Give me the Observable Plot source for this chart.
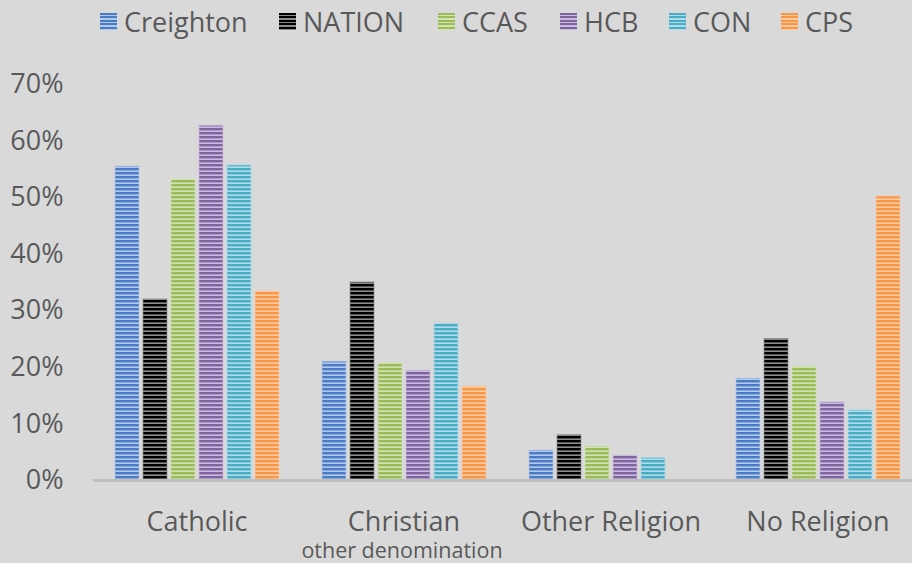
<!DOCTYPE html>
<html><head><meta charset="utf-8">
<script src="https://cdn.jsdelivr.net/npm/d3@7"></script>
<script src="https://cdn.jsdelivr.net/npm/@observablehq/plot@0.6"></script>
<style>
html,body{margin:0;padding:0;background:#d9d9d9;}
body{width:912px;height:563px;overflow:hidden;font-family:"Open Sans",sans-serif;}
#legend{height:40px;position:relative;}
.item{position:absolute;top:8px;display:flex;align-items:center;font-size:27px;color:#595959;line-height:1;}
.sw{width:17px;height:17px;margin-right:7px;}
#chart svg{display:block;}
</style></head><body>
<svg width="0" height="0" style="position:absolute"><defs id="defs"></defs></svg>
<div id="legend"></div>
<div id="chart"></div>
<script>
const categories = ["Catholic", "Christian", "Other Religion", "No Religion"];
const subLabels = [{category: "Christian", text: "other denomination"}];
const series = ["Creighton", "NATION", "CCAS", "HCB", "CON", "CPS"];
const catholic      = [0.555, 0.320, 0.532, 0.627, 0.557, 0.334];
const christian     = [0.210, 0.350, 0.207, 0.194, 0.277, 0.166];
const otherReligion = [0.053, 0.080, 0.060, 0.044, 0.040, 0.000];
const noReligion    = [0.180, 0.250, 0.201, 0.138, 0.124, 0.502];
const yTicks = [0, 0.1, 0.2, 0.3, 0.4, 0.5, 0.6, 0.7];
const darkColors  = ["#4a7cc4", "#000000", "#9bbb59", "#8064a2", "#4bacc6", "#f79646"];
const lightColors = ["#b3c8ea", "#8c8c8c", "#d3e2b4", "#c9bbdc", "#b0dcea", "#fccba2"];
const legendLeft = [100, 279, 438, 560, 669, 781];

// stripe patterns
const defs = d3.select("#defs");
series.forEach((s, i) => {
  const p = defs.append("pattern").attr("id", "pat" + i)
    .attr("patternUnits", "userSpaceOnUse").attr("width", 4).attr("height", 4);
  p.append("rect").attr("width", 4).attr("height", 4).attr("fill", lightColors[i]);
  p.append("rect").attr("width", 4).attr("height", 2.4).attr("fill", darkColors[i]);
});

// legend
const legend = d3.select("#legend");
series.forEach((s, i) => {
  const it = legend.append("div").attr("class", "item").style("left", legendLeft[i] + "px");
  it.append("div").attr("class", "sw")
    .style("background", `repeating-linear-gradient(to bottom, ${darkColors[i]} 0px, ${darkColors[i]} 2px, ${lightColors[i]} 2px, ${lightColors[i]} 3.5px)`);
  it.append("span").text(s);
});

const values = [catholic, christian, otherReligion, noReligion];
const data = categories.flatMap((c, ci) => series.map((s, si) => ({category: c, series: s, si, value: values[ci][si]})));

const plot = Plot.plot({
  width: 912,
  height: 523,
  marginLeft: 92,
  marginRight: -10,
  marginTop: 44,
  marginBottom: 83,
  style: {background: "transparent", fontFamily: "'Open Sans', sans-serif", color: "#595959", overflow: "visible"},
  fx: {domain: categories, padding: 0, label: null, axis: null},
  x: {domain: series, paddingInner: 0.15, paddingOuter: 0.65, axis: null},
  y: {domain: [0, 0.7], axis: null},
  marks: [
    Plot.axisY(yTicks, {tickFormat: d3.format(".0%"), tickSize: 0, tickPadding: 30, fontSize: 27, label: null, fill: "#595959"}),
    Plot.barY(data, {
      fx: "category", x: "series", y: "value",
      fill: {value: d => `url(#pat${d.si})`, scale: null},
      stroke: {value: d => lightColors[d.si], scale: null},
      strokeOpacity: 0.7, strokeWidth: 1
    }),
    Plot.ruleY([0], {stroke: "#bfbfbf", strokeWidth: 3}),
    Plot.axisFx({anchor: "bottom", tickSize: 0, tickPadding: 31, fontSize: 27, label: null, fill: "#595959"}),
    Plot.text(subLabels, {fx: "category", text: "text", frameAnchor: "bottom", dx: -2, dy: 77, fontSize: 21.5, fill: "#595959"})
  ]
});
document.getElementById("chart").appendChild(plot);
</script>
</body></html>
